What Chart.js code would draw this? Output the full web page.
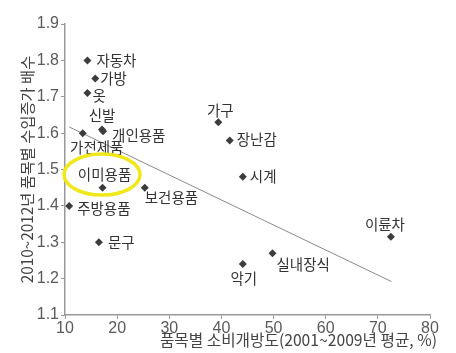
<!DOCTYPE html>
<html>
<head>
<meta charset="utf-8">
<script src="https://cdn.jsdelivr.net/npm/chart.js@4"></script>
<style>
  body { margin: 0; background: #fff; }
</style>
</head>
<body>
<canvas id="chart" width="456" height="353"></canvas>
<script>
// items and values
const names = ['자동차', '가방', '옷', '신발', '개인용품', '가전제품', '이미용품', '보건용품',
  '주방용품', '문구', '가구', '장난감', '시계', '이륜차', '실내장식', '악기'];
const openness = [14.3, 15.8, 14.3, 17.1, 17.3, 13.4, 17.2, 25.3, 10.8, 16.5, 39.4, 41.6, 44.1, 72.5, 49.8, 44.1];
const growth = [1.80, 1.75, 1.71, 1.61, 1.605, 1.60, 1.45, 1.45, 1.40, 1.30, 1.63, 1.58, 1.48, 1.315, 1.27, 1.24];

// trend line end points
const trendX = [10.8, 72.6];
const trendY = [1.617, 1.192];

// highlighted item (yellow ring)
const highlight = { x: 17.1, y: 1.486 };

const xTitle = '품목별 소비개방도(2001~2009년 평균, %)';
const yTitle = '2010~2012년 품목별 수입증가 배수';

// where each label sits next to its point (pixels)
const labelPos = [
  ['left', 9, 0], ['left', 5, 0], ['left', 5, 2], ['center', 0, -14], ['left', 9, 4],
  ['center', 14, 14], ['center', 2, -13], ['left', 0, 10], ['left', 8, 3], ['left', 9, 0],
  ['center', 2, -12], ['left', 7, -1], ['left', 7, 0], ['center', -6, -12], ['left', 4, 11],
  ['center', 1, 14]
];

const pointLabels = {
  id: 'pointLabels',
  afterDatasetsDraw(chart) {
    const { ctx, chartArea, scales: { x, y } } = chart;
    ctx.save();
    ctx.font = '14.5px "Noto Sans CJK KR"';
    ctx.fillStyle = '#333';
    ctx.textBaseline = 'middle';
    names.forEach((n, i) => {
      const [align, dx, dy] = labelPos[i];
      ctx.textAlign = align;
      ctx.fillText(n, x.getPixelForValue(openness[i]) + dx, y.getPixelForValue(growth[i]) + dy);
    });

    // yellow ring
    ctx.beginPath();
    ctx.ellipse(x.getPixelForValue(highlight.x), y.getPixelForValue(highlight.y), 38, 20.5, 0, 0, Math.PI * 2);
    ctx.strokeStyle = '#f0e81a';
    ctx.lineWidth = 3.5;
    ctx.stroke();

    // axis titles
    ctx.fillStyle = '#444';
    ctx.font = '15.7px "Noto Sans CJK KR"';
    ctx.textAlign = 'right';
    ctx.fillText(xTitle, chartArea.right + 7, 340);
    ctx.translate(27, (chartArea.top + chartArea.bottom) / 2);
    ctx.rotate(-Math.PI / 2);
    ctx.textAlign = 'center';
    ctx.font = '15.3px "Noto Sans CJK KR"';
    ctx.fillText(yTitle, 0, 0);
    ctx.restore();
  }
};

new Chart(document.getElementById('chart'), {
  type: 'scatter',
  data: {
    datasets: [
      {
        data: openness.map((v, i) => ({ x: v, y: growth[i] })),
        pointStyle: 'rectRot',
        pointRadius: 4,
        backgroundColor: '#3c3c3c',
        borderColor: '#3c3c3c',
        borderWidth: 0
      },
      {
        type: 'line',
        data: trendX.map((v, i) => ({ x: v, y: trendY[i] })),
        borderColor: '#8a8a8a',
        borderWidth: 1,
        pointRadius: 0,
        fill: false
      }
    ]
  },
  options: {
    responsive: false,
    devicePixelRatio: 1,
    animation: false,
    layout: { padding: { left: 0, right: 26, top: 24, bottom: 0 } },
    plugins: { legend: { display: false }, tooltip: { enabled: false } },
    scales: {
      x: {
        type: 'linear',
        min: 10,
        max: 80,
        ticks: { stepSize: 10, color: '#5a5a5a', font: { family: 'Liberation Sans', size: 16 }, padding: 0 },
        grid: { drawOnChartArea: false, color: '#999', tickLength: 4 },
        border: { color: '#999', width: 1.5 },
        afterFit: s => { s.height = 38; }
      },
      y: {
        min: 1.1,
        max: 1.9,
        ticks: {
          stepSize: 0.1,
          color: '#5a5a5a',
          font: { family: 'Liberation Sans', size: 16 },
          padding: 2,
          callback: v => v.toFixed(1)
        },
        grid: { drawOnChartArea: false, color: '#999', tickLength: 4 },
        border: { color: '#999', width: 1.5 },
        afterFit: s => { s.width = 65; }
      }
    }
  },
  plugins: [pointLabels]
});
</script>
</body>
</html>
